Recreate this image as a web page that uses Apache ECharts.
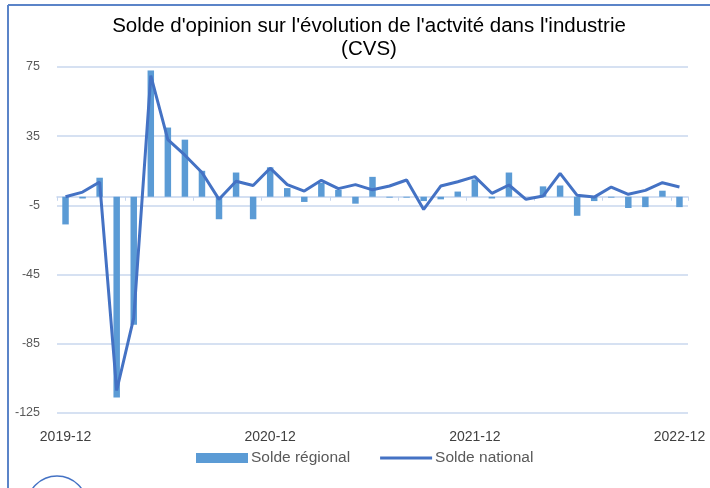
<!DOCTYPE html>
<html>
<head>
<meta charset="utf-8">
<script src="https://cdn.jsdelivr.net/npm/echarts@6/dist/echarts.min.js"></script>
<style>
html,body{margin:0;padding:0;background:#fff;}
#chart{width:710px;height:488px;}
</style>
</head>
<body>
<div id="chart"></div>
<script>
// mois (catégories)
var months = ['2019-12','2020-01','2020-02','2020-03','2020-04','2020-05','2020-06','2020-07','2020-08','2020-09','2020-10','2020-11',
	'2020-12','2021-01','2021-02','2021-03','2021-04','2021-05','2021-06','2021-07','2021-08','2021-09','2021-10','2021-11',
	'2021-12','2022-01','2022-02','2022-03','2022-04','2022-05','2022-06','2022-07','2022-08','2022-09','2022-10','2022-11',
	'2022-12'];
// solde régional (barres)
var regional = [-16, -1, 11, -116, -74, 73, 40, 33, 15, -13, 14, -13,
	17, 5, -3, 8, 4, -4, 11.5, -0.5, -0.5, -2.5, -1.5, 3,
	10, -1, 14, 0, 6, 6.5, -11, -2.5, -0.5, -6.5, -6, 3.5,
	-6];
// solde national (courbe)
var national = [0, 2.7, 8.5, -112, -70, 70, 33, 24, 14, -1.5, 9, 6.5,
	16.5, 7, 3.3, 9.5, 4.7, 7, 4, 6.2, 9.7, -7.3, 6.2, 8.7,
	11.6, 2, 6.8, -1.5, 0.4, 13.5, 0.8, -0.2, 5.6, 1.4, 3.7, 8.1,
	5.6];
var yTicks = [-125, -85, -45, -5, 35, 75];

var chart = echarts.init(document.getElementById('chart'));
var option = {
	animation: false,
	textStyle: {fontFamily: '"Liberation Sans", Arial, sans-serif'},
	title: {
		text: "Solde d'opinion sur l'évolution de l'actvité dans l'industrie\n(CVS)",
		left: 364,
		top: 10,
		textAlign: 'center',
		textStyle: {fontSize: 20.5, fontWeight: 'normal', color: '#000', lineHeight: 23}
	},
	legend: {
		bottom: 17,
		left: 191,
		itemGap: 30,
		itemWidth: 52,
		itemHeight: 10,
		textStyle: {fontSize: 15.5, color: '#595959', padding: [0, 0, 0, -2]},
		data: [
			{name: 'Solde régional', icon: 'rect'},
			{name: 'Solde national', icon: 'path://M0,4 L52,4 L52,7 L0,7 Z'}
		]
	},
	grid: {left: 57, right: 22, top: 67, bottom: 75},
	xAxis: [
		{
			// axe au zéro avec graduations
			type: 'category',
			data: months,
			axisLine: {onZero: true, lineStyle: {color: '#c5d5ee', width: 1.5}},
			axisTick: {show: true, length: 4, lineStyle: {color: '#c5d5ee'}},
			axisLabel: {show: false}
		},
		{
			// libellés en bas
			type: 'category',
			data: months,
			position: 'bottom',
			axisLine: {show: false, onZero: false},
			axisTick: {show: false},
			axisLabel: {interval: 11, fontSize: 14, color: '#404040', margin: 17}
		}
	],
	yAxis: {
		type: 'value',
		min: yTicks[0],
		max: yTicks[yTicks.length - 1],
		interval: 40,
		axisLine: {show: false},
		axisTick: {show: false},
		axisLabel: {fontSize: 12.5, color: '#595959', margin: 17},
		splitLine: {lineStyle: {color: '#c9d7ee', width: 1.5}}
	},
	series: [
		{
			name: 'Solde régional',
			type: 'bar',
			xAxisIndex: 0,
			data: regional,
			barWidth: '38%',
			itemStyle: {color: '#5b9bd5'}
		},
		{
			name: 'Solde national',
			type: 'line',
			xAxisIndex: 0,
			data: national,
			showSymbol: false,
			symbol: 'none',
			lineStyle: {color: '#4472c4', width: 3},
			itemStyle: {color: '#4472c4'}
		}
	],
	graphic: [
		{type: 'line', shape: {x1: 8, y1: 5, x2: 710, y2: 5}, style: {stroke: '#5b84c8', lineWidth: 2}},
		{type: 'line', shape: {x1: 8, y1: 5, x2: 8, y2: 488}, style: {stroke: '#5b84c8', lineWidth: 2}},
		{type: 'circle', shape: {cx: 57, cy: 506, r: 30}, style: {fill: 'none', stroke: '#4472c4', lineWidth: 1.5}}
	]
};
chart.setOption(option);
</script>
</body>
</html>
